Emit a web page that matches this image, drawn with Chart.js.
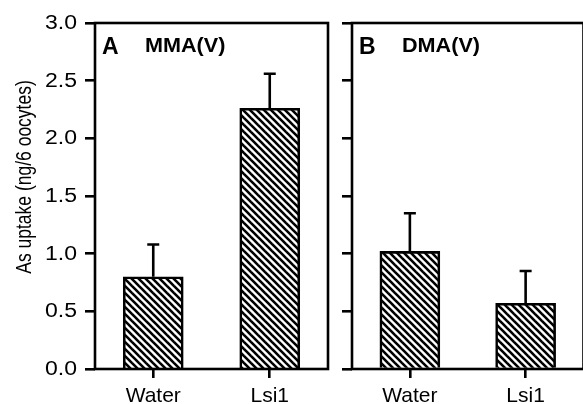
<!DOCTYPE html>
<html lang="en">
<head>
<meta charset="UTF-8">
<title>As uptake in oocytes</title>
<script src="https://cdn.jsdelivr.net/npm/chart.js"></script>
<style>
  html, body { margin: 0; padding: 0; background: #fff; overflow: hidden; }
  body { width: 583px; height: 404px; position: relative; }
  .panel { position: absolute; top: 0; height: 404px; }
  #panelA { left: 0; width: 340px; }
  #panelB { left: 340px; width: 244px; }
</style>
</head>
<body>
<div class="panel" id="panelA"><canvas id="chartA"></canvas></div>
<div class="panel" id="panelB"><canvas id="chartB"></canvas></div>
<script>
const categories = ['Water', 'Lsi1'];
const mmaUptake = [0.80, 2.26];
const mmaError = [0.28, 0.30];
const dmaUptake = [1.02, 0.57];
const dmaError = [0.33, 0.28];
const yTicks = [0, 0.5, 1.0, 1.5, 2.0, 2.5, 3.0];

const FONT = "'Liberation Sans', Arial, Helvetica, sans-serif";

// diagonal hatch fill for the bars
function hatch(ctx) {
    const n = 7;
    const c = document.createElement('canvas');
    c.width = n; c.height = n;
    const g = c.getContext('2d');
    g.fillStyle = '#fff';
    g.fillRect(0, 0, n, n);
    g.strokeStyle = '#000';
    g.lineWidth = 2.6;
    for (let k = -1; k <= 1; k++) {
        g.beginPath();
        g.moveTo(k * n - 1, -1);
        g.lineTo(k * n + n + 1, n + 1);
        g.stroke();
    }
    return ctx.createPattern(c, 'repeat');
}

// box around the plot area
const frame = {
    id: 'frame',
    afterDatasetsDraw(chart) {
        const { ctx, chartArea: a } = chart;
        ctx.save();
        ctx.strokeStyle = '#000';
        ctx.lineWidth = 2.6;
        ctx.strokeRect(a.left, a.top, a.right - a.left, a.bottom - a.top);
        ctx.restore();
    }
};

// upper error bars only
const errorBars = {
    id: 'errorBars',
    afterDatasetsDraw(chart, args, opts) {
        const { ctx, scales: { x, y } } = chart;
        const data = chart.data.datasets[0].data;
        ctx.save();
        ctx.strokeStyle = '#000';
        ctx.lineWidth = 2.6;
        data.forEach((v, i) => {
            const px = x.getPixelForValue(i);
            const base = y.getPixelForValue(v);
            const top = y.getPixelForValue(v + opts.errors[i]);
            ctx.beginPath();
            ctx.moveTo(px, base);
            ctx.lineTo(px, top);
            ctx.moveTo(px - 6, top);
            ctx.lineTo(px + 6, top);
            ctx.stroke();
        });
        ctx.restore();
    }
};

// panel letter, compound name, y tick labels and the shared y title
const panelText = {
    id: 'panelText',
    afterDraw(chart, args, opts) {
        const { ctx, chartArea: a, scales: { y } } = chart;
        ctx.save();
        ctx.fillStyle = '#000';
        ctx.textBaseline = 'alphabetic';
        ctx.textAlign = 'left';
        ctx.font = 'bold 23px ' + FONT;
        ctx.fillText(opts.letter, a.left + 7, 54);
        ctx.save();
        ctx.translate(a.left + opts.nameX, 52);
        ctx.scale(1.08, 1);
        ctx.font = 'bold 20px ' + FONT;
        ctx.fillText(opts.name, 0, 0);
        ctx.restore();
        if (opts.yTitle) {
            // tick numbers, right-aligned next to the tick marks
            ctx.font = '20px ' + FONT;
            ctx.textAlign = 'right';
            ctx.textBaseline = 'middle';
            y.ticks.forEach(t => {
                ctx.save();
                ctx.translate(a.left - 18, y.getPixelForValue(t.value) + 0.5);
                ctx.scale(1.15, 1);
                ctx.fillText(t.value.toFixed(1), 0, 0);
                ctx.restore();
            });
            ctx.translate(25, 177);
            ctx.rotate(-Math.PI / 2);
            ctx.scale(1, 1.3);
            ctx.textAlign = 'center';
            ctx.textBaseline = 'middle';
            ctx.font = '17.5px ' + FONT;
            ctx.fillText(opts.yTitle, 0, 0);
        }
        ctx.restore();
    }
};

function makeChart(id, values, errors, letter, name, nameX, withLabels) {
    const ctx = document.getElementById(id).getContext('2d');
    return new Chart(ctx, {
        type: 'bar',
        data: {
            labels: categories,
            datasets: [{
                data: values,
                backgroundColor: hatch(ctx),
                borderColor: '#000',
                borderWidth: 2.6,
                barThickness: 60
            }]
        },
        options: {
            responsive: true,
            maintainAspectRatio: false,
            animation: false,
            layout: { padding: { top: 23, right: withLabels ? 12 : 0.5, left: 0, bottom: 0 } },
            plugins: {
                legend: { display: false },
                tooltip: { enabled: false },
                errorBars: { errors: errors },
                panelText: { letter: letter, name: name, nameX: nameX, yTitle: withLabels ? 'As uptake (ng/6 oocytes)' : '' }
            },
            scales: {
                x: {
                    offset: true,
                    grid: { offset: false, drawOnChartArea: false, drawTicks: true, tickLength: 9, color: '#000', lineWidth: 2.6 },
                    border: { display: false },
                    ticks: { color: '#000', font: { family: FONT, size: 21 }, padding: 6, maxRotation: 0 },
                    afterFit(s) { s.height = 35; }
                },
                y: {
                    min: 0,
                    max: 3,
                    afterBuildTicks(s) { s.ticks = yTicks.map(v => ({ value: v })); },
                    grid: { drawOnChartArea: false, drawTicks: true, tickLength: 10, color: '#000', lineWidth: 2.6 },
                    border: { display: false },
                    ticks: { display: false },
                    afterFit(s) { s.width = withLabels ? 95 : 12; }
                }
            }
        },
        plugins: [frame, errorBars, panelText]
    });
}

makeChart('chartA', mmaUptake, mmaError, 'A', 'MMA(V)', 50, true);
makeChart('chartB', dmaUptake, dmaError, 'B', 'DMA(V)', 50, false);
</script>
</body>
</html>
